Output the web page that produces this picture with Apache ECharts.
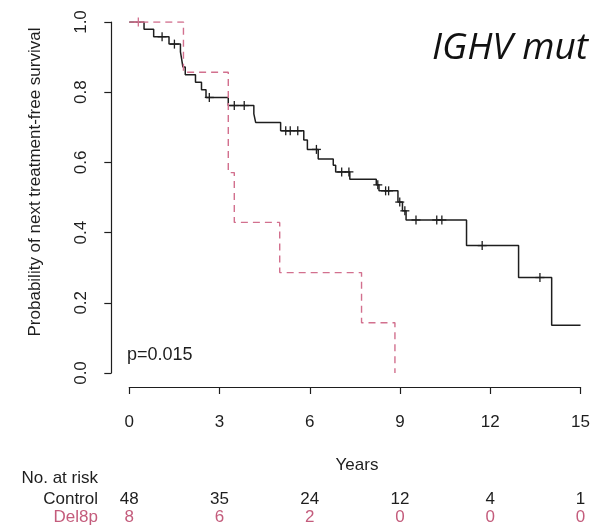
<!DOCTYPE html>
<html><head><meta charset="utf-8">
<script src="https://cdn.jsdelivr.net/npm/echarts@6/dist/echarts.min.js"></script>
<style>html,body{margin:0;padding:0;background:#fff}#c{width:593px;height:528px}</style>
</head><body><div id="c"></div>
<script>
// Kaplan-Meier step data (time in years, survival after the step)
const controlTimes = [0, 0.49, 0.81, 1.32, 1.70, 1.74, 1.78, 1.86, 2.20, 2.40, 2.55, 3.29, 4.14, 4.20, 5.03, 5.80, 5.92, 6.28, 6.78, 6.86, 7.33, 8.21, 8.30, 8.93, 9.08, 9.20, 11.21, 12.94, 14.04, 15.0];
const controlSurv  = [1, 0.979, 0.958, 0.937, 0.915, 0.894, 0.872, 0.850, 0.828, 0.807, 0.785, 0.762, 0.738, 0.714, 0.690, 0.664, 0.637, 0.610, 0.592, 0.573, 0.552, 0.536, 0.519, 0.487, 0.462, 0.436, 0.363, 0.272, 0.136, 0.136];
const controlCensored = [1.09, 1.50, 2.66, 3.49, 3.82, 5.20, 5.35, 5.60, 6.22, 7.06, 7.30, 8.26, 8.52, 8.62, 8.99, 9.16, 9.53, 10.22, 10.39, 11.73, 13.65];

const delTimes = [0, 1.80, 3.29, 3.49, 5.00, 7.72, 8.83];
const delSurv  = [1, 0.857, 0.571, 0.429, 0.286, 0.143, 0];
const delCensored = [0.30];

// Risk table
const riskYears = [0, 3, 6, 9, 12, 15];
const riskControl = [48, 35, 24, 12, 4, 1];
const riskDel = [8, 6, 2, 0, 0, 0];

const xTicks = { min: 0, max: 15, interval: 3 };
const yTicks = { min: 0, max: 1, interval: 0.2 };

const BLACK = '#1e1e1e';
const PINK_LINE = '#d2708e';
const PINK_TEXT = '#c45c7c';
const FONT = 'Liberation Sans, Arial, sans-serif';

function stepValue(ts, ss, t) {
  let v = ss[0];
  for (let i = 0; i < ts.length; i++) if (ts[i] <= t) v = ss[i];
  return v;
}
const pairs = (ts, ss) => ts.map((t, i) => [t, ss[i]]);

function censorRender(color) {
  return function (params, api) {
    const p = api.coord([api.value(0), api.value(1)]);
    const h = 4.5;
    return { type: 'group', children: [
      { type: 'line', shape: { x1: p[0] - h, y1: p[1], x2: p[0] + h, y2: p[1] }, style: { stroke: color, lineWidth: 1.3 } },
      { type: 'line', shape: { x1: p[0], y1: p[1] - h, x2: p[0], y2: p[1] + h }, style: { stroke: color, lineWidth: 1.3 } }
    ]};
  };
}
function riskRender(yPix, color) {
  return function (params, api) {
    const x = api.coord([api.value(0), 0])[0];
    return { type: 'text', style: { text: String(api.value(1)), x: x, y: yPix, align: 'center', verticalAlign: 'middle', fill: color, fontSize: 17, fontFamily: FONT } };
  };
}

const chart = echarts.init(document.getElementById('c'), null, { renderer: 'canvas' });
chart.setOption({
  animation: false,
  backgroundColor: '#ffffff',
  title: { text: 'IGHV mut', left: 427, top: 25, textStyle: { fontFamily: 'Open Sans, Noto Sans, sans-serif', fontStyle: 'italic', fontWeight: 'normal', fontSize: 37, color: '#111' } },
  grid: { left: 129.3, top: 22, width: 455.2, height: 351 },
  xAxis: {
    type: 'value', min: xTicks.min, max: xTicks.max, interval: xTicks.interval, offset: 14,
    axisLine: { show: true, onZero: false, lineStyle: { color: BLACK, width: 1.2 } },
    axisTick: { show: true, length: 7, lineStyle: { color: BLACK, width: 1.2 } },
    axisLabel: { margin: 27, fontSize: 17, color: BLACK, fontFamily: FONT },
    splitLine: { show: false }
  },
  yAxis: {
    type: 'value', min: yTicks.min, max: yTicks.max, interval: yTicks.interval, offset: 18,
    axisLine: { show: true, onZero: false, lineStyle: { color: BLACK, width: 1.2 } },
    axisTick: { show: true, length: 7, lineStyle: { color: BLACK, width: 1.2 } },
    axisLabel: { rotate: 90, margin: 21, fontSize: 17, color: BLACK, fontFamily: FONT, formatter: v => v.toFixed(1) },
    splitLine: { show: false }
  },
  graphic: [
    { type: 'text', x: 35, y: 182, rotation: Math.PI / 2, style: { text: 'Probability of next treatment-free survival', align: 'center', verticalAlign: 'middle', fill: BLACK, fontSize: 17, fontFamily: FONT } },
    { type: 'text', x: 127, y: 355, style: { text: 'p=0.015', align: 'left', verticalAlign: 'middle', fill: BLACK, fontSize: 18, fontFamily: FONT } },
    { type: 'text', x: 357, y: 465, style: { text: 'Years', align: 'center', verticalAlign: 'middle', fill: BLACK, fontSize: 17, fontFamily: FONT } },
    { type: 'text', x: 98, y: 478, style: { text: 'No. at risk', align: 'right', verticalAlign: 'middle', fill: BLACK, fontSize: 17, fontFamily: FONT } },
    { type: 'text', x: 98, y: 499, style: { text: 'Control', align: 'right', verticalAlign: 'middle', fill: BLACK, fontSize: 17, fontFamily: FONT } },
    { type: 'text', x: 98, y: 517, style: { text: 'Del8p', align: 'right', verticalAlign: 'middle', fill: PINK_TEXT, fontSize: 17, fontFamily: FONT } }
  ],
  series: [
    { type: 'line', step: 'end', data: pairs(controlTimes, controlSurv), symbol: 'none', lineStyle: { color: BLACK, width: 1.5 }, z: 2 },
    { type: 'custom', data: controlCensored.map(t => [t, stepValue(controlTimes, controlSurv, t)]), renderItem: censorRender(BLACK), clip: false, z: 3 },
    { type: 'line', step: 'end', data: pairs(delTimes, delSurv), symbol: 'none', lineStyle: { color: PINK_LINE, width: 1.4, type: [7, 5] }, z: 4 },
    { type: 'custom', data: delCensored.map(t => [t, stepValue(delTimes, delSurv, t)]), renderItem: censorRender(PINK_LINE), clip: false, z: 5 },
    { type: 'custom', data: riskYears.map((y, i) => [y, riskControl[i]]), renderItem: riskRender(499, BLACK), clip: false, silent: true },
    { type: 'custom', data: riskYears.map((y, i) => [y, riskDel[i]]), renderItem: riskRender(517, PINK_TEXT), clip: false, silent: true }
  ]
});
</script>
</body></html>
